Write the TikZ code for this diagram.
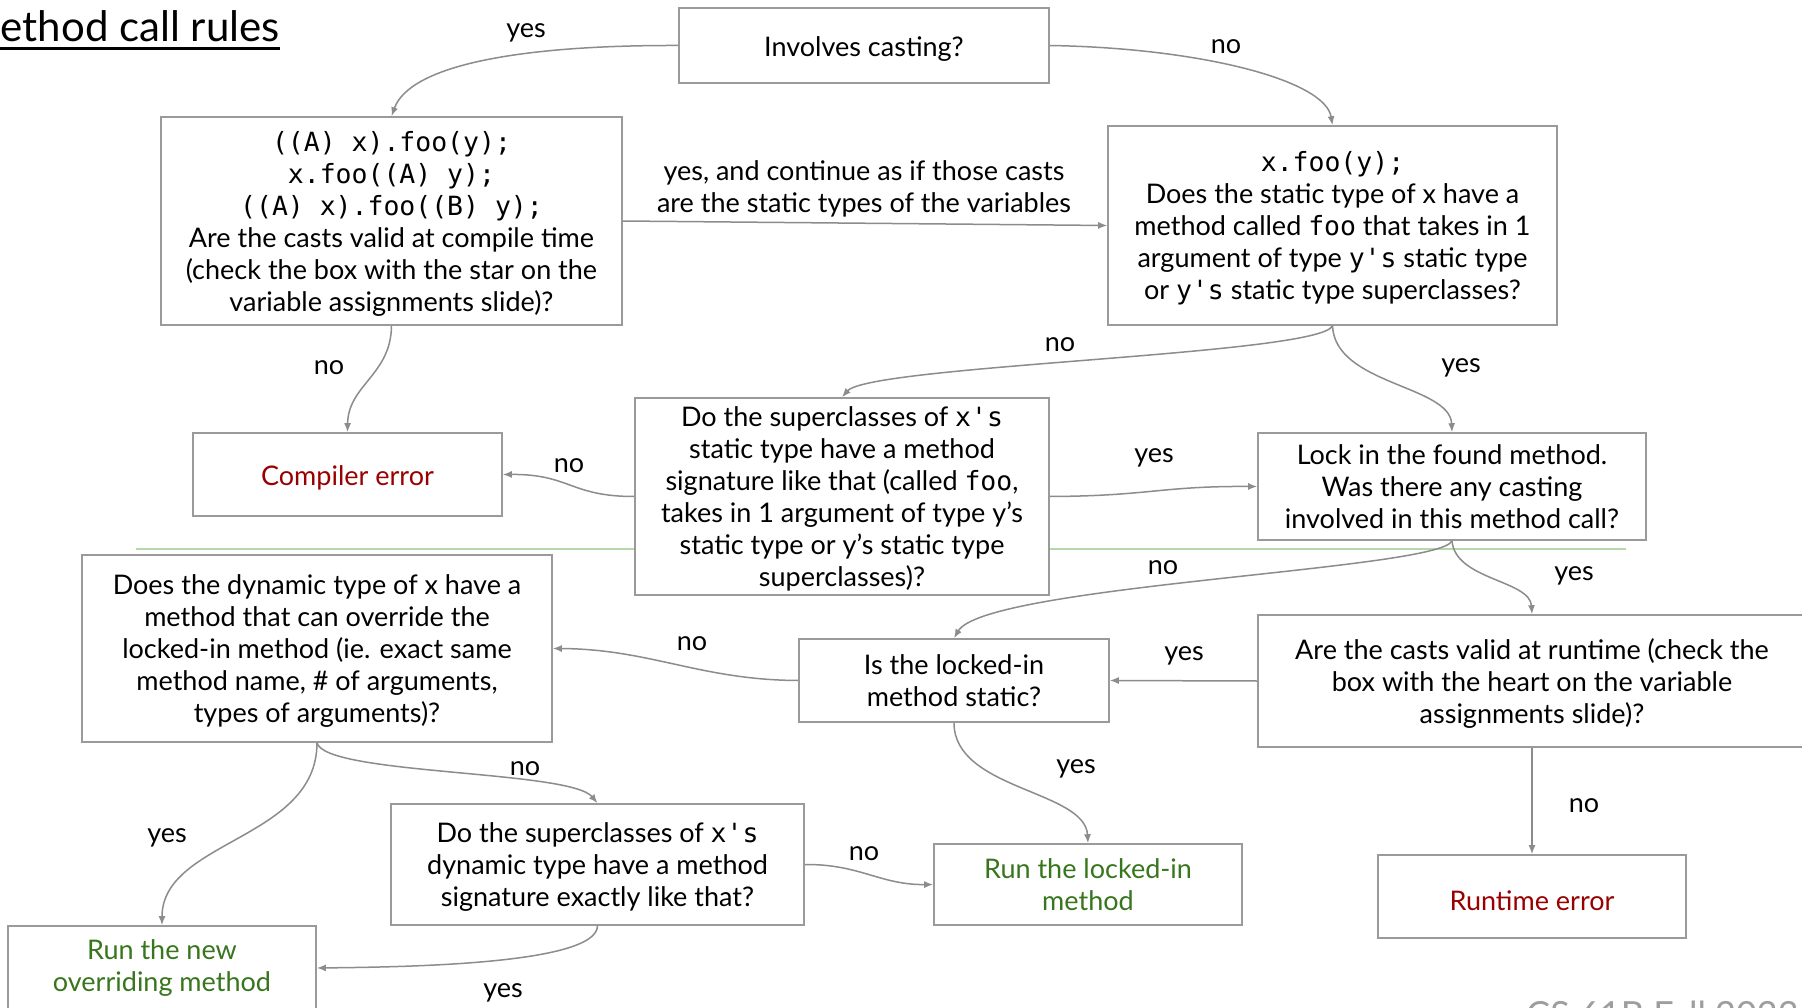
\documentclass[tikz,border=0pt]{standalone}
\usepackage{fontspec}
\setmainfont{Lato}
\setmonofont{DejaVu Sans Mono}[Scale=0.98]
\usetikzlibrary{arrows.meta,calc}
\definecolor{boxgray}{HTML}{9A9A9A}
\definecolor{linegray}{HTML}{8C8C8C}
\definecolor{errred}{HTML}{990000}
\definecolor{okgreen}{HTML}{38761D}
\definecolor{sepgreen}{HTML}{B6D7A8}
\definecolor{notegray}{HTML}{9E9E9E}
\begin{document}
\begin{tikzpicture}[x=1pt,y=-1pt,
  box/.style={draw=boxgray, line width=1.6pt, fill=white, align=center, inner sep=0pt,
    font=\fontsize{27}{32}\selectfont, execute at begin node={\rule{0pt}{27.5pt}}},
  ml/.style={text depth=0pt},
  conn/.style={draw=linegray, line width=1.5pt, -{Latex[length=9pt,width=7pt]}},
  lbl/.style={font=\fontsize{27}{32}\selectfont, inner sep=0pt, anchor=center, yshift=-3.5pt},
  err/.style={text=errred},
  ok/.style={text=okgreen}
]
\useasboundingbox[fill=white] (0,0) rectangle (1802,1008);

% title
\node[inner sep=0pt, anchor=base east, font=\fontsize{42}{50}\selectfont] (title) at (280,42) {Method call rules};
\draw[line width=2.8pt] (0,48.5) -- (280,48.5);

% separator
\draw[sepgreen, line width=1.5pt] (136,549) -- (1626,549);

% boxes
\node[box, minimum width=370pt, minimum height=75pt] (cast0) at (864,45.5) {Involves casting?};
\node[box, ml, minimum width=461pt, minimum height=208pt] (A) at (391.5,221)
 {\texttt{((A) x).foo(y);}\\ \texttt{x.foo((A) y);}\\ \texttt{((A) x).foo((B) y);}\\
  Are the casts valid at compile time\\ (check the box with the star on the\\ variable assignments slide)?};
\node[box, ml, minimum width=449pt, minimum height=199pt] (B) at (1332.5,225.5)
 {\texttt{x.foo(y);}\\ Does the static type of x have a\\ method called \texttt{foo} that takes in 1\\
  argument of type \texttt{y's} static type\\ or \texttt{y's} static type superclasses?};
\node[box, err, minimum width=309pt, minimum height=83pt] (CE) at (347.5,474.5) {Compiler error};
\node[box, ml, minimum width=414pt, minimum height=197pt] (C) at (842,496.5)
 {Do the superclasses of \texttt{x's}\\ static type have a method\\ signature like that (called \texttt{foo},\\
  takes in 1 argument of type y’s\\ static type or y’s static type\\ superclasses)?};
\node[box, minimum width=388pt, minimum height=107pt] (D) at (1452,486.5)
 {Lock in the found method.\\ Was there any casting\\ involved in this method call?};
\node[box, ml, minimum width=470pt, minimum height=187pt] (E) at (317,648.5)
 {Does the dynamic type of x have a\\ method that can override the\\ locked-in method (ie. exact same\\
  method name, \# of arguments,\\ types of arguments)?};
\node[box, minimum width=310pt, minimum height=83pt] (F) at (954,680.5) {Is the locked-in\\ method static?};
\node[box, ml, minimum width=548pt, minimum height=132pt] (G) at (1532,681)
 {Are the casts valid at runtime (check the\\ box with the heart on the variable\\ assignments slide)?};
\node[box, ml, minimum width=413pt, minimum height=121pt] (H) at (597.5,864.5)
 {Do the superclasses of \texttt{x's}\\ dynamic type have a method\\ signature exactly like that?};
\node[box, ok, minimum width=308pt, minimum height=81pt] (I) at (1088,884.5) {Run the locked-in\\ method};
\node[box, err, minimum width=308pt, minimum height=83pt] (J) at (1532,896.5) {Runtime error};
\node[box, ok, minimum width=308pt, minimum height=84pt] (K) at (162,968) {Run the new\\ overriding method};

% footer (cut off)
\node[inner sep=0pt, anchor=north west, text=notegray, font=\fontsize{36}{42}\selectfont] (note) at (1526,1001) {CS 61B Fall 2023};

% connectors
\draw[conn] (cast0.west) .. controls (520,45) and (410,65) .. (A.north);
\draw[conn] (cast0.east) .. controls (1200,48) and (1325,80) .. (B.north);
\draw[conn] (A.east) -- (B.west);
\draw[conn] (A.south) .. controls (391,375) and (348,385) .. (CE.north);
\draw[conn] (B.south) .. controls (1320,355) and (870,365) .. (C.north);
\draw[conn] (B.south) .. controls (1335,385) and (1450,385) .. (D.north);
\draw[conn] (C.west) .. controls (570,496.5) and (570,474) .. (CE.east);
\draw[conn] (C.east) .. controls (1150,496) and (1160,486) .. (D.west);
\draw[conn] (D.south) .. controls (1440,570) and (985,585) .. (F.north);
\draw[conn] (D.south) .. controls (1455,580) and (1530,580) .. (G.north);
\draw[conn] (G.west) -- (F.east);
\draw[conn] (F.west) .. controls (700,680) and (650,649) .. (E.east);
\draw[conn] (F.south) .. controls (954,790) and (1085,790) .. (I.north);
\draw[conn] (G.south) -- (J.north);
\draw[conn] (E.south) .. controls (325,775) and (570,770) .. (H.north);
\draw[conn] (E.south) .. controls (317,840) and (162,840) .. (K.north);
\draw[conn] (H.east) .. controls (860,864) and (880,885) .. (I.west);
\draw[conn] (H.south) .. controls (597,965) and (400,967) .. (K.east);

% labels
\node[lbl] (l1) at (526,29) {yes};
\node[lbl] (l2) at (1226,43) {no};
\node[lbl, align=center] (l3) at (864,185)
 {yes, and continue as if those casts\\ are the static types of the variables};
\node[lbl] (l4) at (1060,341) {no};
\node[lbl] (l5) at (1461,364) {yes};
\node[lbl] (l6) at (329,364) {no};
\node[lbl] (l7) at (569,462) {no};
\node[lbl] (l8) at (1154,454) {yes};
\node[lbl] (l9) at (1163,564) {no};
\node[lbl] (l10) at (1574,572) {yes};
\node[lbl] (l11) at (692,640) {no};
\node[lbl] (l12) at (1184,652) {yes};
\node[lbl] (l13) at (525,765) {no};
\node[lbl] (l14) at (1076,765) {yes};
\node[lbl] (l15) at (1584,802) {no};
\node[lbl] (l16) at (167,834) {yes};
\node[lbl] (l17) at (864,850) {no};
\node[lbl] (l18) at (503,989) {yes};
\end{tikzpicture}
\end{document}
